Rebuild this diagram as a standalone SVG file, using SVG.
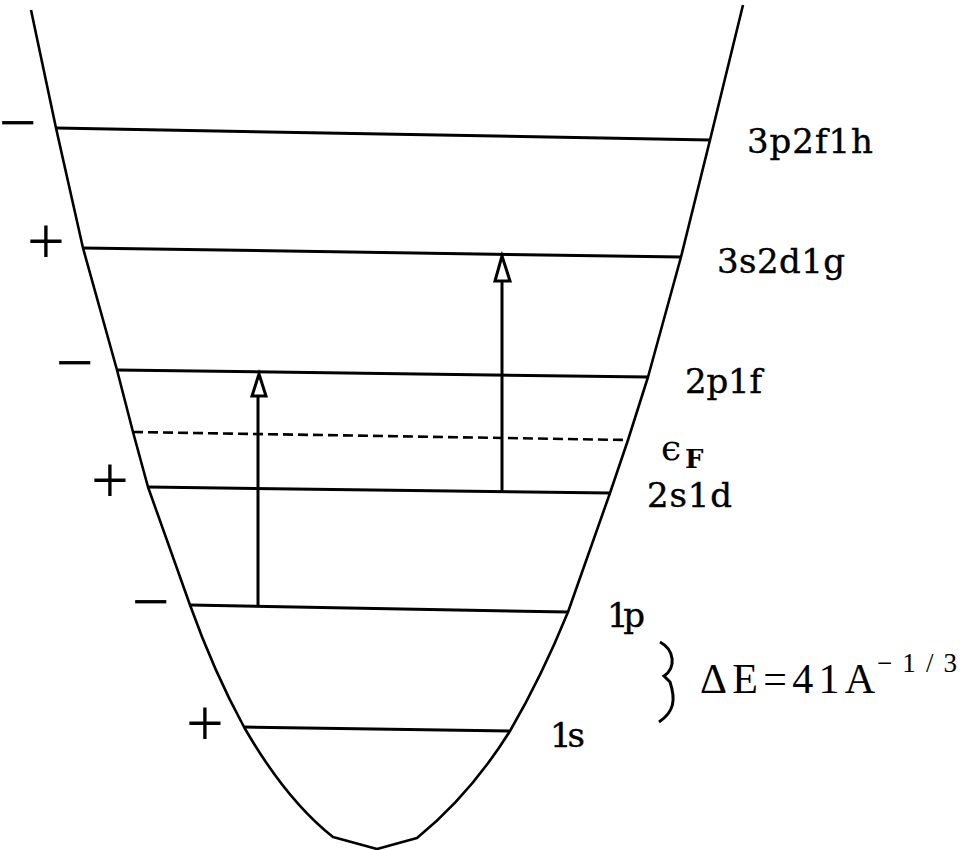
<svg xmlns="http://www.w3.org/2000/svg" width="967" height="850" viewBox="0 0 967 850">
<style>
.well{fill:none;stroke:#000;stroke-width:2.6;stroke-linejoin:round}
.lvl{stroke:#000;stroke-width:3;fill:none}
.dash{stroke:#000;stroke-width:2.6;stroke-dasharray:10 5;fill:none}
.arr{stroke:#000;stroke-width:3;fill:none}
.head{fill:#fff;stroke:#000;stroke-width:3;stroke-linejoin:miter}
.lab{font-family:"DejaVu Serif","Liberation Serif",serif;font-size:34px;fill:#000;stroke:#000;stroke-width:0.4}
.sign{font-family:"Liberation Serif",serif;font-size:67px;fill:#000;text-anchor:middle}
.math{font-family:"Liberation Serif",serif;fill:#000}
</style>
<rect width="967" height="850" fill="#fff"/>
<g id="well">
<path class="well" d="M31,10 L56,128 L83,248 L117,370 L133,432 L148,487 L190,605 Q214,672 244,727 Q286,800 333,837 L377,849 L417,838 Q470,795 510,731 Q542,676 568,612 L610,493 L628,440 L648,377 L681,257 L710,140 L743,5"/>
</g>
<g id="levels">
<g id="lvl-3p2f1h"><line class="lvl" x1="56" y1="128" x2="710" y2="140"/><text class="lab" x="747" y="153" textLength="126">3p2f1h</text><text class="sign" x="18" y="145">−</text></g>
<g id="lvl-3s2d1g"><line class="lvl" x1="83" y1="248" x2="681" y2="257"/><text class="lab" x="717" y="273" textLength="128">3s2d1g</text><text class="sign" x="46" y="264">+</text></g>
<g id="lvl-2p1f"><line class="lvl" x1="117" y1="370" x2="648" y2="377"/><text class="lab" x="685" y="393" textLength="77">2p1f</text><text class="sign" x="75" y="385">−</text></g>
<g id="lvl-fermi"><line class="dash" x1="133" y1="432" x2="628" y2="440"/><text x="661" y="460" font-family="DejaVu Serif, serif" font-size="36">ϵ</text><text x="685" y="468" font-family="DejaVu Serif, serif" font-size="26" font-weight="bold">F</text></g>
<g id="lvl-2s1d"><line class="lvl" x1="148" y1="487" x2="610" y2="493"/><text class="lab" x="647" y="507" textLength="85">2s1d</text><text class="sign" x="110" y="503">+</text></g>
<g id="lvl-1p"><line class="lvl" x1="190" y1="605" x2="568" y2="612"/><text class="lab" x="607" y="627" textLength="38">1p</text><text class="sign" x="151" y="624">−</text></g>
<g id="lvl-1s"><line class="lvl" x1="244" y1="727" x2="510" y2="731"/><text class="lab" x="550" y="747" textLength="35">1s</text><text class="sign" x="205" y="746">+</text></g>
</g>
<g id="connectors">
<line class="arr" x1="258" y1="396" x2="258" y2="606"/>
<polygon class="head" points="259,374 252,396 266,396"/>
<line class="arr" x1="502" y1="281" x2="502" y2="492"/>
<polygon class="head" points="502,256 495,281 510,281"/>
</g>
<g id="spacing">
<path d="M660,642 C675,650 676,668 664,676 L670,682 C676,700 674,712 659,722" fill="none" stroke="#000" stroke-width="3"/>
<text class="math" x="700" y="693" font-size="42" textLength="175" lengthAdjust="spacing">ΔE=41A</text>
<text class="math" x="877" y="672" font-size="27" textLength="80" lengthAdjust="spacing">−1/3</text>
</g>
</svg>
